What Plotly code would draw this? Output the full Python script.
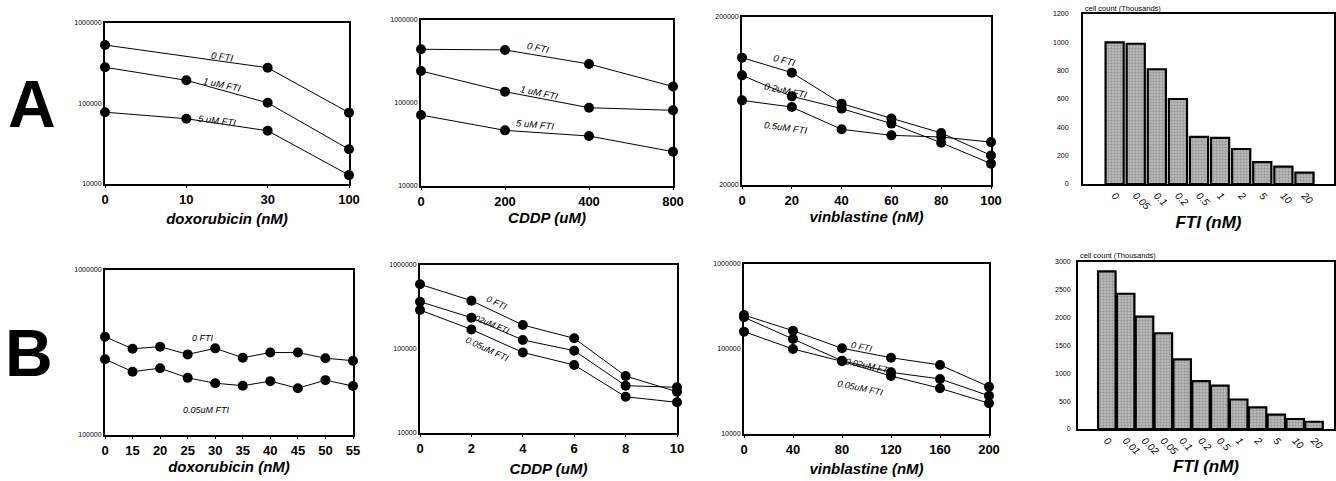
import plotly.graph_objects as go

W, H = 1336, 481

# ---------------- Panel A data ----------------
a_dox_x = ["0", "10", "30", "100"]
a_dox_0fti_x = ["0", "30", "100"]
a_dox_0fti = [533000, 278000, 77000]
a_dox_1um = [282000, 194000, 102000, 27000]
a_dox_5um = [78000, 64700, 45900, 12900]

a_cddp_x = ["0", "200", "400", "800"]
a_cddp_0fti = [444000, 436000, 295000, 158000]
a_cddp_1um = [243000, 137000, 87700, 81600]
a_cddp_5um = [71600, 46800, 40000, 25900]

a_vin_x = [0, 20, 40, 60, 80, 100]
a_vin_0fti = [114600, 93300, 61000, 49700, 40800, 30000]
a_vin_02um = [89900, 67400, 57000, 46400, 35700, 26800]
a_vin_05um = [63800, 58200, 42900, 39500, 38600, 36000]

a_fti_cat = ["0", "0.05", "0.1", "0.2", "0.5", "1", "2", "5", "10", "20"]
a_fti_count = [1000, 990, 810, 600, 332, 325, 247, 155, 122, 80]

# ---------------- Panel B data ----------------
b_dox_x = ["0", "15", "20", "25", "30", "35", "40", "45", "50", "55"]
b_dox_0fti = [394000, 333000, 343000, 308000, 335000, 294000, 316000, 316000, 292000, 282000]
b_dox_005um = [288000, 242000, 254000, 222000, 206000, 199000, 212000, 192000, 215000, 198000]

b_cddp_x = [0, 2, 4, 6, 8, 10]
b_cddp_0fti = [589000, 376000, 193000, 134000, 47700, 31000]
b_cddp_002um = [366000, 236000, 128000, 95500, 36600, 35000]
b_cddp_005um = [291000, 171000, 91000, 64500, 27000, 23200]

b_vin_x = [0, 40, 80, 120, 160, 200]
b_vin_0fti = [251000, 164000, 102000, 79000, 64900, 36000]
b_vin_002um = [236000, 131000, 72800, 53200, 44400, 28200]
b_vin_005um = [160000, 100000, 71600, 48100, 34500, 23000]

b_fti_cat = ["0", "0.01", "0.02", "0.05", "0.1", "0.2", "0.5", "1", "2", "5", "10", "20"]
b_fti_count = [2830, 2430, 2020, 1720, 1250, 860, 780, 530, 390, 260, 180, 130]

FONT = "Liberation Sans, Arial, Helvetica, sans-serif"


def xd(x0, x1):
    return [x0 / W, x1 / W]


def yd(y0, y1):
    return [1 - y1 / H, 1 - y0 / H]


fig = go.Figure()
layout = {}
annotations = []


def line_trace(x, y, ax):
    fig.add_trace(go.Scatter(
        x=x, y=y, mode="lines+markers",
        line=dict(color="black", width=1),
        marker=dict(color="black", size=10),
        xaxis="x" + ax, yaxis="y" + ax, cliponaxis=False, showlegend=False,
    ))


def bar_trace(x, y, ax, width):
    fig.add_trace(go.Bar(
        x=x, y=y, width=width,
        marker=dict(color="#a9a9a9", line=dict(color="black", width=2.2),
                    pattern=dict(shape=".", fgcolor="#6a6a6a", bgcolor="#b8b8b8",
                                 size=3, solidity=0.35)),
        xaxis="x" + ax, yaxis="y" + ax, showlegend=False,
    ))


def line_axes(n, xdom, ydom, xtype, xrange, xcats, title, standoff, yrange, ytickvals, yticktext):
    sfx = "" if n == 1 else str(n)
    xa = dict(domain=xd(*xdom), anchor="y" + sfx, type=xtype, range=xrange,
              showline=True, mirror=True, linecolor="black", linewidth=2,
              ticks="outside", ticklen=2, tickwidth=1, tickcolor="black",
              showgrid=False, zeroline=False,
              tickfont=dict(family=FONT, size=13, color="black", weight="bold"),
              title=dict(text=title, standoff=standoff,
                         font=dict(family=FONT, size=15, color="black", weight="bold", style="italic")),
              automargin=False)
    if xtype == "category":
        xa["categoryorder"] = "array"
        xa["categoryarray"] = xcats
    else:
        xa["tickmode"] = "array"
        xa["tickvals"] = xcats
    ya = dict(domain=yd(*ydom), anchor="x" + sfx, type="log", range=yrange,
              showline=True, mirror=True, linecolor="black", linewidth=2,
              ticks="", showgrid=False, zeroline=False,
              tickmode="array", tickvals=ytickvals, ticktext=yticktext,
              tickfont=dict(family=FONT, size=7, color="black"), automargin=False)
    layout["xaxis" + sfx] = xa
    layout["yaxis" + sfx] = ya


def bar_axes(n, xdom, ydom, xcats, xrange, yrange, dtick, standoff, ystandoff):
    sfx = str(n)
    layout["xaxis" + sfx] = dict(domain=xd(*xdom), anchor="y" + sfx, type="category", range=xrange,
                                 categoryorder="array", categoryarray=xcats,
                                 showline=True, mirror=True, linecolor="black", linewidth=2,
                                 ticks="", showgrid=False, zeroline=False, tickangle=45,
                                 tickfont=dict(family=FONT, size=10, color="black", style="italic"),
                                 title=dict(text="FTI (nM)", standoff=standoff,
                                            font=dict(family=FONT, size=17, color="black",
                                                      weight="bold", style="italic")),
                                 automargin=False)
    layout["yaxis" + sfx] = dict(domain=yd(*ydom), anchor="x" + sfx, range=yrange, dtick=dtick,
                                 showline=True, mirror=True, linecolor="black", linewidth=2,
                                 ticks="", showgrid=False, zeroline=False, ticklabelstandoff=ystandoff,
                                 tickfont=dict(family=FONT, size=7, color="black"), automargin=False)


def label(text, x, y, angle=0, size=9.5):
    annotations.append(dict(text=text, x=x / W, y=1 - y / H, xref="paper", yref="paper",
                            showarrow=False, textangle=angle, xanchor="center", yanchor="middle",
                            font=dict(family=FONT, size=size, color="black", style="italic")))


# ---------- A1: doxorubicin ----------
line_trace(a_dox_x, a_dox_1um, "")
line_trace(a_dox_0fti_x, a_dox_0fti, "")
line_trace(a_dox_x, a_dox_5um, "")
line_axes(1, (105, 349), (23, 184), "category", [0, 3], a_dox_x, "doxorubicin (nM)", 8,
          [4, 6], [1e4, 1e5, 1e6], ["10000", "100000", "1000000"])
label("0 FTI", 222, 57, 8)
label("1 uM FTI", 222, 84, 12)
label("5 uM FTI", 217, 120, 7)

# ---------- A2: CDDP ----------
line_trace(a_cddp_x, a_cddp_0fti, "2")
line_trace(a_cddp_x, a_cddp_1um, "2")
line_trace(a_cddp_x, a_cddp_5um, "2")
line_axes(2, (421, 673), (20, 186), "category", [0, 3], a_cddp_x, "CDDP (uM)", 5,
          [4, 6], [1e4, 1e5, 1e6], ["10000", "100000", "1000000"])
label("0 FTI", 538, 47, 12)
label("1 uM FTI", 539, 93, 12)
label("5 uM FTI", 535, 125, 5)

# ---------- A3: vinblastine ----------
line_trace(a_vin_x, a_vin_0fti, "3")
line_trace(a_vin_x, a_vin_02um, "3")
line_trace(a_vin_x, a_vin_05um, "3")
line_axes(3, (742, 991), (17, 185), "linear", [0, 100], a_vin_x, "vinblastine (nM)", 5,
          [4.30103, 5.30103], [2e4, 2e5], ["20000", "200000"])
label("0 FTI", 785, 61, 15)
label("0.2uM FTI", 786, 90, 12)
label("0.5uM FTI", 786, 127, 8)

# ---------- A4: bars ----------
bar_trace(a_fti_cat, a_fti_count, "4", 0.86)
bar_axes(4, (1083, 1334), (14, 184), a_fti_cat, [-1.5, 10.4], [0, 1200], 200, 5, 11)

# ---------- B1: doxorubicin ----------
line_trace(b_dox_x, b_dox_0fti, "5")
line_trace(b_dox_x, b_dox_005um, "5")
line_axes(5, (105, 353), (270, 435), "category", [0, 9], b_dox_x, "doxorubicin (nM)", 2,
          [5, 6], [1e5, 1e6], ["100000", "1000000"])
label("0 FTI", 203, 338, 0, 9)
label("0.05uM FTI", 206, 410, 0, 9)

# ---------- B2: CDDP ----------
line_trace(b_cddp_x, b_cddp_0fti, "6")
line_trace(b_cddp_x, b_cddp_002um, "6")
line_trace(b_cddp_x, b_cddp_005um, "6")
line_axes(6, (420, 677), (265, 433), "linear", [0, 10], b_cddp_x, "CDDP (uM)", 9,
          [4, 6], [1e4, 1e5, 1e6], ["10000", "100000", "1000000"])
label("0 FTI", 497, 303, 25, 9)
label("0.02uM FTI", 489, 323, 22, 8.5)
label("0.05uM FTI", 487, 349, 25, 9)

# ---------- B3: vinblastine ----------
line_trace(b_vin_x, b_vin_0fti, "7")
line_trace(b_vin_x, b_vin_002um, "7")
line_trace(b_vin_x, b_vin_005um, "7")
line_axes(7, (744, 989), (264, 434), "linear", [0, 200], b_vin_x, "vinblastine (nM)", 8,
          [4, 6], [1e4, 1e5, 1e6], ["10000", "100000", "1000000"])
label("0 FTI", 862, 347, 12, 9)
label("0.02uM FTI", 868, 366, 12, 9)
label("0.05uM FTI", 860, 388, 12, 9)

# ---------- B4: bars ----------
bar_trace(b_fti_cat, b_fti_count, "8", 0.93)
bar_axes(8, (1078, 1334), (262, 429), b_fti_cat, [-1.53, 12.06], [0, 3000], 500, 0, 4)

# Bar chart y captions
for (cx, cy) in [(1083, 9), (1078, 255)]:
    annotations.append(dict(text="cell count (Thousands)", x=cx / W, y=1 - cy / H,
                            xref="paper", yref="paper", showarrow=False,
                            xanchor="left", yanchor="middle",
                            font=dict(family=FONT, size=7.5, color="black")))

# Panel letters
for (txt, cx, cy) in [("A", 32, 104), ("B", 29, 353)]:
    annotations.append(dict(text=txt, x=cx / W, y=1 - cy / H, xref="paper", yref="paper",
                            showarrow=False, xanchor="center", yanchor="middle",
                            font=dict(family=FONT, size=66, color="black", weight="bold")))

fig.update_layout(
    width=W, height=H,
    margin=dict(l=0, r=0, t=0, b=0),
    paper_bgcolor="white", plot_bgcolor="white",
    annotations=annotations,
    bargap=0.1,
    **layout,
)

fig.write_html("out.html", config={"displayModeBar": False},
               post_script="document.body.style.margin='0';document.body.style.overflow='hidden';")
